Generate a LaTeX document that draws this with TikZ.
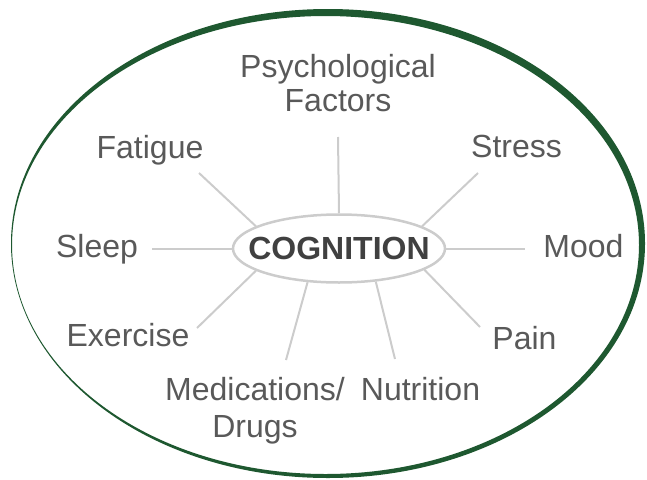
\documentclass[tikz,border=0pt]{standalone}
\usepackage{fontspec}
\setmainfont{Liberation Sans}
\usetikzlibrary{shapes.geometric}
\definecolor{ringgreen}{RGB}{30,88,48}
\definecolor{spokegray}{RGB}{204,204,204}
\definecolor{labelgray}{RGB}{89,89,89}
\definecolor{hubgray}{RGB}{64,64,64}
\tikzstyle{factor} = [text=labelgray, font=\fontsize{32}{34}\selectfont, inner sep=0pt, anchor=base, align=center]
\tikzstyle{hub} = [draw=spokegray, line width=2.5pt, ellipse, inner xsep=-15.7pt, inner ysep=0pt, minimum height=68pt, text=hubgray, font=\fontsize{32}{34}\selectfont\bfseries]
\tikzstyle{spoke} = [draw=spokegray, line width=2pt]

\begin{document}
\begin{tikzpicture}[x=1pt, y=-1pt]
  \useasboundingbox (0,0) rectangle (647,479);

  % outer ring, heavier on the upper right
  \fill[ringgreen, even odd rule] (328,243.5) ellipse [x radius=317pt, y radius=234.5pt]
    (325.5,245) ellipse [x radius=313.5pt, y radius=229pt];

  \node[hub] (hub) at (339,248.5) {COGNITION};

  % anchor=base sits on the last line of two-line labels
  \node[factor] (psych) at (338,111) {Psychological\\Factors};
  \node[factor] (fatigue) at (150,158) {Fatigue};
  \node[factor] (stress) at (516.5,157) {Stress};
  \node[factor] (sleep) at (97,257) {Sleep};
  \node[factor] (mood) at (583.5,257) {Mood};
  \node[factor] (exercise) at (128,346) {Exercise};
  \node[factor] (pain) at (524.5,349) {Pain};
  \node[factor, font=\fontsize{32}{37}\selectfont] (meds) at (255,437) {Medications/\\Drugs};
  \node[factor] (nutrition) at (420.5,400) {Nutrition};

  \coordinate (psych-end) at (338,137);
  \coordinate (fatigue-end) at (199,173);
  \coordinate (stress-end) at (478,173);
  \coordinate (sleep-end) at (152,248.5);
  \coordinate (mood-end) at (525,248.5);
  \coordinate (exercise-end) at (197,328);
  \coordinate (pain-end) at (480,327);
  \coordinate (meds-end) at (286,360);
  \coordinate (nutrition-end) at (395,359);

  \draw[spoke] (hub.90) -- (psych-end);
  \draw[spoke] (hub.165) -- (fatigue-end);
  \draw[spoke] (hub.15) -- (stress-end);
  \draw[spoke] (hub.180) -- (sleep-end);
  \draw[spoke] (hub.0) -- (mood-end);
  \draw[spoke] (hub.195) -- (exercise-end);
  \draw[spoke] (hub.-14) -- (pain-end);
  \draw[spoke] (hub.227) -- (meds-end);
  \draw[spoke] (hub.318) -- (nutrition-end);
\end{tikzpicture}
\end{document}
